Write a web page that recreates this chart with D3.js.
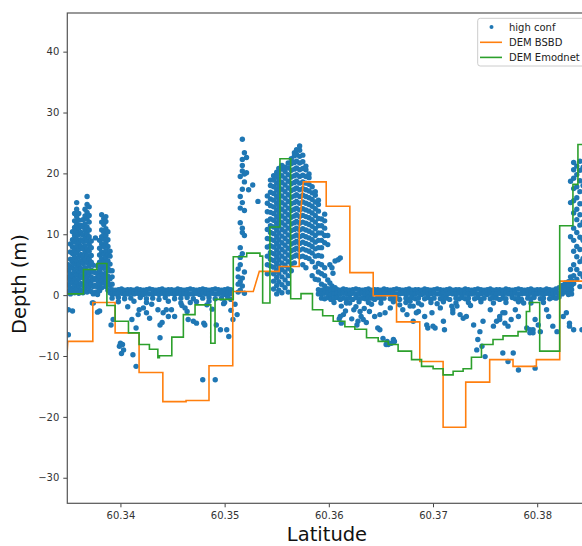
<!DOCTYPE html>
<html><head><meta charset="utf-8">
<script src="https://cdn.jsdelivr.net/npm/d3@7"></script>
<style>body{margin:0;background:#fff}svg{display:block}</style>
</head><body>
<svg id="c" width="582" height="546"></svg>
<script>
// ---------- data ----------
const xTicks = [60.34, 60.35, 60.36, 60.37, 60.38];
const yTicks = [-30, -20, -10, 0, 10, 20, 30, 40];
const seriesNames = ["high conf", "DEM BSBD", "DEM Emodnet"];
const xLabel = "Latitude";
const yLabel = "Depth (m)";

// DEM BSBD (orange) vertices
const bsbdLat = [60.3348,60.33495,60.33735,60.33735,60.33949,60.33949,60.34179,60.34179,60.34407,60.34407,60.34630,60.34630,60.34850,60.34850,60.35078,60.35078,60.35275,60.35333,60.35524,60.35524,60.35716,60.35716,60.35755,60.35975,60.35975,60.36202,60.36202,60.36426,60.36426,60.36650,60.36650,60.36873,60.36873,60.37097,60.37097,60.37314,60.37314,60.37544,60.37544,60.37768,60.37768,60.37992,60.37992,60.38216,60.38216,60.3860];
const bsbdDepth = [-11.8,-7.6,-7.6,-1.2,-1.2,-6.2,-6.2,-12.7,-12.7,-17.5,-17.5,-17.3,-17.3,-11.6,-11.6,0.6,0.6,3.9,3.9,4.7,4.7,10.8,18.6,18.6,14.6,14.6,3.7,3.7,-0.1,-0.1,-4.4,-4.4,-10.9,-10.9,-21.7,-21.7,-14.3,-14.3,-10.6,-10.6,-11.7,-11.7,-10.6,-10.6,2.3,2.3];

// DEM Emodnet (green) steps
const emodLat = [60.3348,60.33645,60.33774,60.33870,60.33949,60.34077,60.34179,60.34278,60.34359,60.34374,60.34493,60.34604,60.34716,60.34867,60.34908,60.35083,60.35212,60.35339,60.35365,60.35435,60.35531,60.35634,60.35733,60.35843,60.35941,60.36042,60.36154,60.36250,60.36362,60.36474,60.36570,60.36665,60.36794,60.36890,60.37001,60.37097,60.37193,60.37289,60.37369,60.37465,60.37576,60.37672,60.37816,60.37896,60.37928,60.38024,60.38216,60.38343,60.38391,60.3860];
const emodDepth = [0.2,4.2,5.2,-1.7,-4.3,-6.2,-8.1,-8.9,-10.3,-9.95,-6.9,-3.2,-1.6,-7.9,-0.7,6.3,6.9,6.4,-1.3,11.2,22.4,-0.6,0.25,-2.4,-3.4,-4.3,-5.2,-5.6,-7.0,-7.6,-8.1,-9.2,-10.6,-11.7,-12.1,-13.1,-12.5,-12.1,-10.2,-8.1,-7.3,-6.7,-6.0,-2.7,-1.2,-9.2,11.4,18.2,24.75,24.75];

// high conf photons: [lat, [depths...]]
const confLeftPeaks = [
[60.3350,[0.6,1.7,2.9,4.1,5.0,-2.4,-6.5]],
[60.3352,[0.2,1.2,2.4,3.5,4.7,5.9,7.1,8.4]],
[60.3354,[0.9,2.0,3.1,4.4,5.5,6.8,7.9,9.1,10.4,-2.6]],
[60.3356,[0.4,1.5,2.6,3.8,5.1,6.2,7.4,8.7,9.8,11.1,12.2,13.4]],
[60.3358,[1.0,2.1,3.3,4.5,5.6,6.9,8.0,9.2,10.5,11.6,12.9,14.1,15.2]],
[60.3360,[0.3,1.5,2.7,3.9,5.0,6.3,7.5,8.6,9.9,11.0,12.3,13.4]],
[60.3362,[0.8,1.9,3.2,4.4,5.6,6.7,8.0,9.1,10.3,11.5]],
[60.3364,[0.4,1.6,2.8,3.9,5.2,6.3,7.6,8.8,9.9,11.2,12.4]],
[60.3366,[1.0,2.2,3.4,4.5,5.8,7.0,8.1,9.4,10.6,11.7,13.0,14.1]],
[60.3368,[0.5,1.7,2.9,4.0,5.3,6.5,7.6,8.9,10.1,11.2,12.5,13.6,14.9,16.2]],
[60.3370,[1.2,2.3,3.6,4.8,5.9,7.2,8.3,9.6,10.7,12.0,13.1,14.5]],
[60.3372,[0.6,1.8,3.0,4.1,5.4,6.5,7.8,8.9]],
[60.3374,[0.2,1.4,2.5,3.8,4.9,-1.3]],
[60.3376,[0.5,1.6,2.8,3.7,9.4]],
[60.3378,[0.1,1.3,2.4,3.5,4.8,-2.8]],
[60.3380,[0.7,1.8,3.0,4.1,5.4,6.6,7.7,9.0,-2.6]],
[60.3382,[1.2,2.4,3.5,4.8,6.0,7.1,8.4,9.6,10.7,12.0,13.2]],
[60.3384,[2.0,3.1,4.4,5.6,6.7,8.0,9.2,10.3,11.6,12.6]],
[60.3386,[1.4,2.6,3.7,5.0,6.2,7.3,8.6,9.8,10.9,12.1,12.9]],
[60.3388,[0.8,2.0,3.1,4.4,5.6,6.7,8.0,9.1,10.4]],
[60.3390,[0.4,1.6,2.7,4.0,5.1,6.4,7.2]],
[60.3392,[1.8,3.0,4.0]]
];
const confLeftBand = [
[60.3392,[0.9,0.2,-0.5]],[60.3395,[0.8,0.2]],[60.3398,[0.9,0.3,-0.4,-1.1]],[60.3401,[1.0,0.3]],[60.3404,[0.8,0.1,-0.6]],[60.3407,[0.9,0.2]],[60.3410,[0.9,0.3,-0.5]],[60.3413,[0.8,0.2,-1.0]],[60.3416,[1.0,0.3]],[60.3419,[0.9,0.2,-0.4]],[60.3422,[0.8,0.1]],[60.3425,[0.9,0.3,-0.6,-1.2]],[60.3428,[1.0,0.2]],[60.3431,[0.9,0.2,-0.5]],[60.3434,[0.8,0.3]],[60.3437,[0.9,0.1,-0.7]],[60.3440,[1.0,0.3]],[60.3443,[0.8,0.2,-0.4]],[60.3446,[0.9,0.2,-1.0]],[60.3449,[0.9,0.3]],[60.3452,[0.8,0.1,-0.6]],[60.3455,[1.0,0.3]],[60.3458,[0.9,0.2,-0.5,-1.3]],[60.3461,[0.8,0.2]],[60.3464,[0.9,0.3,-0.4]],[60.3467,[1.0,0.2]],[60.3470,[0.9,0.2,-0.6]],[60.3473,[0.8,0.3,-1.1]],[60.3476,[0.9,0.1]],[60.3479,[1.0,0.3,-0.5]],[60.3482,[0.9,0.2]],[60.3485,[0.8,0.2,-0.4,-1.0]],[60.3488,[0.9,0.3]],[60.3491,[1.0,0.2,-0.6]],[60.3494,[0.9,0.2]],[60.3497,[0.8,0.3,-0.5]],[60.3500,[0.9,0.1,-1.2]],[60.3503,[1.0,0.3,-0.4]],[60.3506,[0.9,0.2,-0.7]]
];
const confLeftBelow = [[60.3373,-1.3],[60.3393,-4.0],[60.3391,-4.9],[60.3400,-7.9],[60.3399,-8.4],[60.3403,-9.0],[60.3401,-9.6],[60.3402,-8.1],[60.3411,-4.0],[60.3412,-9.8],[60.3415,-5.4],[60.3415,-11.7],[60.3417,-3.2],[60.3418,-2.4],[60.3422,-2.1],[60.3425,-2.9],[60.3428,-3.8],[60.3436,-2.4],[60.3438,-7.0],[60.3438,-4.9],[60.3441,-2.9],[60.3440,-4.5],[60.3444,-2.4],[60.3446,-3.5],[60.3452,-3.5],[60.3449,-2.4],[60.3462,-2.1],[60.3464,-2.7],[60.3465,-4.0],[60.3470,-4.3],[60.3473,-4.6],[60.3480,-4.6],[60.3481,-4.9],[60.3479,-13.9],[60.3483,-1.6],[60.3491,-13.9],[60.3492,-4.9],[60.3496,-5.7],[60.3502,-5.7],[60.3504,-6.8],[60.3506,-2.5],[60.3508,-4.0],[60.3510,-1.5],[60.3512,-3.2],[60.3459,-1.7],[60.3467,-1.2],[60.3430,-1.5],[60.3407,-1.9],[60.3488,-2.3],[60.3499,-1.4]];
const confSpike = [
[60.3513,[0.5,1.8,3.0,4.3]],
[60.3515,[0.8,2.2,5.0,6.2,7.8,11.9,14.3,16.2,19.5]],
[60.3517,[1.5,2.8,6.8,10.3,11.0,15.2,17.4,20.4,21.3,22.3,25.6]],
[60.3519,[0.3,3.8,9.8,13.9,18.6,19.9,23.4]],
[60.3521,[20.1,22.6]],
[60.3523,[17.3]],
[60.3527,[18.1]],
[60.3532,[15.4]]
];
const confCentral = [
[60.3541,[3.5,5.0,6.4,7.9,9.3,10.8,12.2,13.7,15.1,16.3]],
[60.3544,[4.8,5.9,7.0,8.1,9.2,10.3,11.4,12.5,13.6,14.7,15.8,16.9,18.0,18.9]],
[60.3547,[1.0,2.3,3.5,4.6,5.7,6.8,7.9,9.0,10.1,11.2,12.3,13.4,14.5,15.6,16.7,17.8,18.9,19.6]],
[60.3550,[0.2,1.6,2.9,4.1,5.2,6.3,7.4,8.5,9.6,10.7,11.8,12.9,14.0,15.1,16.2,17.3,18.4,19.5,20.2]],
[60.3552,[0.8,2.2,3.6,4.7,5.8,6.9,8.0,9.1,10.2,11.3,12.4,13.5,14.6,15.7,16.8,17.9,19.0,20.1,20.8]],
[60.3555,[0.4,1.7,3.0,4.2,5.3,6.4,7.5,8.6,9.7,10.8,11.9,13.0,14.1,15.2,16.3,17.4,18.5,19.6,20.7,21.3]],
[60.3558,[1.2,2.5,3.8,4.9,6.0,7.1,8.2,9.3,10.4,11.5,12.6,13.7,14.8,15.9,17.0,18.1,19.2,20.3,21.0]],
[60.3561,[0.5,1.9,3.2,4.4,5.5,6.6,7.7,8.8,9.9,11.0,12.1,13.2,14.3,15.4,16.5,17.6,18.7,19.8,20.9,21.7]],
[60.3564,[4.0,5.1,6.2,7.3,8.4,9.5,10.6,11.7,12.8,13.9,15.0,16.1,17.2,18.3,19.4,20.5,21.6,22.4]],
[60.3567,[5.3,6.4,7.5,8.6,9.7,10.8,11.9,13.0,14.1,15.2,16.3,17.4,18.5,19.6,20.7,21.8,22.9,23.4]],
[60.3569,[6.6,7.7,8.8,9.9,11.0,12.1,13.2,14.3,15.4,16.5,17.6,18.7,19.8,20.9,22.0,23.1,23.9]],
[60.3572,[6.3,7.4,8.5,9.6,10.7,11.8,12.9,14.0,15.1,16.2,17.3,18.4,19.5,20.6,21.7,22.8,23.8,24.5]],
[60.3575,[5.0,6.4,7.6,8.7,9.8,10.9,12.0,13.1,14.2,15.3,16.4,17.5,18.6,19.7,20.8,21.9,23.0]],
[60.3578,[4.5,6.2,7.4,8.5,9.6,10.7,11.8,12.9,14.0,15.1,16.2,17.3,18.4,19.5,20.6,21.2]],
[60.3581,[6.0,7.2,8.3,9.4,10.5,11.6,12.7,13.8,14.9,16.0,17.1,18.2,19.3,19.9]],
[60.3584,[3.2,5.5,6.9,8.0,9.1,10.2,11.3,12.4,13.5,14.6,15.7,16.8,17.8]],
[60.3587,[2.6,4.6,6.4,7.6,8.7,9.8,10.9,12.0,13.1,14.2,15.3,16.4,17.0]],
[60.3590,[2.5,3.8,5.2,6.5,7.8,9.0,10.2,11.4,12.6,13.8,14.9,15.6]],
[60.3593,[1.8,3.5,5.0,6.4,7.8,9.0,10.2,11.4,12.5]],
[60.3596,[1.5,3.2,4.5,8.6,9.8,11.0,12.2,13.3]],
[60.3599,[1.0,2.5,8.3,9.8]],
[60.3601,[0.5,2.0,5.0]],
[60.3603,[1.5,4.5]],
[60.3604,[3.6]],
[60.3606,[5.6,1.2]],
[60.3609,[5.8,0.8]],
[60.3611,[6.1]]
];
const confRightBand = [
[60.3590,[0.9,0.2]],[60.3593,[0.8,0.2,-0.5]],[60.3596,[0.9,0.3,-0.6]],[60.3599,[1.0,0.3,-0.4]],[60.3602,[0.8,0.1,-0.7]],[60.3605,[0.9,0.2,-0.5,-1.2]],[60.3608,[0.9,0.3,-0.4]],[60.3611,[0.8,0.2,-0.6]],[60.3614,[1.0,0.3,-0.5]],[60.3617,[0.9,0.2,-0.6,-1.3]],[60.3620,[0.8,0.1,-0.5]],[60.3623,[0.9,0.3,-0.7]],[60.3626,[1.0,0.2,-0.4]],[60.3629,[0.9,0.2,-0.6,-1.1]],[60.3632,[0.8,0.3,-0.5]],[60.3635,[0.9,0.1,-0.6]],[60.3638,[1.0,0.3,-0.4,-1.2]],[60.3641,[0.8,0.2,-0.5]],[60.3644,[0.9,0.2,-0.7]],[60.3647,[0.9,0.3,-0.4]],[60.3650,[0.8,0.1,-0.6,-1.3]],[60.3653,[1.0,0.3,-0.5]],[60.3656,[0.9,0.2]],[60.3659,[0.8,0.2,-0.6]],[60.3662,[0.9,0.3,-0.4,-1.1]],[60.3665,[1.0,0.2,-0.5]],[60.3668,[0.9,0.2,-0.7]],[60.3671,[0.8,0.3]],[60.3674,[0.9,0.1,-0.5,-1.2]],[60.3677,[1.0,0.3,-0.6]],[60.3680,[0.8,0.2,-0.4]],[60.3683,[0.9,0.2,-0.6]],[60.3686,[0.9,0.3,-0.5,-1.3]],[60.3689,[0.8,0.1]],[60.3692,[1.0,0.3,-0.6]],[60.3695,[0.9,0.2,-0.4]],[60.3698,[0.8,0.2,-0.7,-1.2]],[60.3701,[0.9,0.3,-0.5]],[60.3704,[1.0,0.2]],[60.3707,[0.9,0.2,-0.6]],[60.3710,[0.8,0.3,-0.4,-1.1]],[60.3713,[0.9,0.1,-0.5]],[60.3716,[1.0,0.3,-0.7]],[60.3719,[0.8,0.2]],[60.3722,[0.9,0.2,-0.5,-1.3]],[60.3725,[0.9,0.3,-0.6]],[60.3728,[0.8,0.1,-0.4]],[60.3731,[1.0,0.3,-0.6]],[60.3734,[0.9,0.2,-0.5,-1.2]],[60.3737,[0.8,0.2]],[60.3740,[0.9,0.3,-0.6]],[60.3743,[1.0,0.2,-0.4]],[60.3746,[0.9,0.2,-0.7,-1.1]],[60.3749,[0.8,0.3,-0.5]],[60.3752,[0.9,0.1]],[60.3755,[1.0,0.3,-0.6]],[60.3758,[0.8,0.2,-0.4,-1.3]],[60.3761,[0.9,0.2,-0.5]],[60.3764,[0.9,0.3,-0.7]],[60.3767,[0.8,0.1,-0.5]],[60.3770,[1.0,0.3,-0.6,-1.2]],[60.3773,[0.9,0.2]],[60.3776,[0.8,0.2,-0.4]],[60.3779,[0.9,0.3,-0.6]],[60.3782,[1.0,0.2,-0.5,-1.1]],[60.3785,[0.9,0.2,-0.7]],[60.3788,[0.8,0.3]],[60.3791,[0.9,0.1,-0.5]],[60.3794,[1.0,0.3,-0.6,-1.3]],[60.3797,[0.8,0.2,-0.4]],[60.3800,[0.9,0.2]],[60.3803,[0.9,0.3,-0.6]],[60.3806,[0.8,0.1,-0.5,-1.2]],[60.3809,[1.0,0.3]],[60.3812,[0.9,0.2,-0.6]],[60.3815,[0.8,0.2,-0.4]],[60.3818,[1.0,0.3,-0.5]],[60.3821,[1.2,0.4,-0.3]],[60.3824,[1.6,0.9,0.2]],[60.3827,[2.0,1.3,0.5]],[60.3830,[2.2,1.5,0.8,0.1]],[60.3833,[2.4,1.6,0.9,0.2]]
];
const confRightBelow = [[60.3611,-0.7],[60.3612,-1.8],[60.3614,-3.2],[60.3610,-3.9],[60.3620,-1.3],[60.3624,-2.4],[60.3630,-2.7],[60.3631,-3.5],[60.3633,-4.0],[60.3628,-4.3],[60.3636,-4.5],[60.3639,-2.7],[60.3644,-3.5],[60.3649,-3.2],[60.3654,-2.9],[60.3659,-2.1],[60.3652,-7.1],[60.3657,-8.1],[60.3662,-7.3],[60.3656,-7.6],[60.3668,-1.6],[60.3671,-2.4],[60.3675,-3.2],[60.3678,-1.8],[60.3681,-4.3],[60.3686,-2.7],[60.3689,-1.6],[60.3692,-3.5],[60.3695,-5.4],[60.3702,-5.4],[60.3699,-2.9],[60.3710,-4.3],[60.3711,-5.7],[60.3707,-2.1],[60.3719,-2.4],[60.3723,-1.8],[60.3726,-3.2],[60.3729,-3.8],[60.3732,-3.5],[60.3739,-4.9],[60.3745,-6.0],[60.3743,-7.3],[60.3748,-4.3],[60.3755,-2.4],[60.3758,-5.1],[60.3761,-4.3],[60.3764,-3.5],[60.3767,-2.9],[60.3769,-4.6],[60.3772,-5.1],[60.3775,-4.0],[60.3779,-2.4],[60.3782,-3.5],[60.3790,-5.4],[60.3793,-6.2],[60.3796,-5.7],[60.3798,-4.0],[60.3801,-4.9],[60.3803,-6.0],[60.3809,-2.4],[60.3811,-3.5],[60.3815,-5.1],[60.3819,-6.0],[60.3825,-3.5],[60.3828,-2.9],[60.3831,-4.6],[60.3835,-5.7],[60.3843,-5.7],[60.3767,-9.5],[60.3772,-10.9],[60.3777,-9.5],[60.3782,-12.3],[60.3798,-12.0],[60.3750,-10.1],[60.3742,-9.0],[60.3747,-8.4],[60.3611,-3.5],[60.3612,-4.6],[60.3647,-5.4],[60.3649,-5.7],[60.3655,-8.1],[60.3660,-7.9],[60.3663,-7.6],[60.3678,-1.0],[60.3681,-1.8],[60.3684,-2.9],[60.3694,-4.9],[60.3700,-5.1],[60.3718,-1.8],[60.3719,-2.9],[60.3764,-4.0],[60.3769,-2.9],[60.3793,-5.7],[60.3796,-6.2],[60.3831,-5.1],[60.3617,-1.2],[60.3641,-1.5],[60.3704,-1.4],[60.3736,-1.7],[60.3787,-1.3],[60.3616,-2.6],[60.3622,-3.9],[60.3626,-1.9],[60.3634,-2.2],[60.3627,-4.9]];
const confRightRise = [
[60.3832,[3.0,4.2,9.6,15.2,18.7]],
[60.3835,[1.9,3.2,5.0,7.2,9.0,11.0,13.5,15.5,17.5,19.2,20.6,21.8]],
[60.3838,[2.6,4.2,6.3,8.0,10.3,12.4,14.1,16.0,17.8,19.8,21.2]],
[60.3841,[1.4,3.5,5.5,7.5,9.5,11.5,13.2,15.0,17.0,18.8,20.5,22.0]],
[60.3844,[3.0,6.0,9.0,12.0,15.0,18.0,21.0]]
];

// ---------- chart ----------
const COL = {conf: "#1f77b4", bsbd: "#ff7f0e", emod: "#2ca02c"};
const svg = d3.select("#c");
svg.append("rect").attr("width", 582).attr("height", 546).attr("fill", "#fff");

const pL = 67.3, pT = 13, pR = 592, pB = 503.3;
const x = d3.scaleLinear().domain([60.3349, 60.38526]).range([pL, pR]);
const y = d3.scaleLinear().domain([-34.2, 46.35]).range([pB, pT]);

svg.append("clipPath").attr("id", "clip").append("rect")
  .attr("x", pL).attr("y", pT).attr("width", pR - pL).attr("height", pB - pT);

const plot = svg.append("g").attr("clip-path", "url(#clip)");

const cols = (arr) => arr.flatMap(([lat, ds]) => ds.map(d => [lat, d]));
const points = [].concat(
  cols(confLeftPeaks), cols(confLeftBand), confLeftBelow, cols(confSpike),
  cols(confCentral), cols(confRightBand), confRightBelow, cols(confRightRise)
);

plot.append("g").selectAll("circle").data(points).join("circle")
  .attr("cx", d => x(d[0])).attr("cy", d => y(d[1])).attr("r", 2.7)
  .attr("fill", COL.conf);

const bsbd = bsbdLat.map((v, i) => [v, bsbdDepth[i]]);
const emod = emodLat.map((v, i) => [v, emodDepth[i]]);

plot.append("path").datum(bsbd)
  .attr("d", d3.line().x(d => x(d[0])).y(d => y(d[1])))
  .attr("fill", "none").attr("stroke", COL.bsbd).attr("stroke-width", 1.6);

plot.append("path").datum(emod)
  .attr("d", d3.line().curve(d3.curveStepAfter).x(d => x(d[0])).y(d => y(d[1])))
  .attr("fill", "none").attr("stroke", COL.emod).attr("stroke-width", 1.6);

// axes
const font = "DejaVu Sans, sans-serif";
const xAxis = svg.append("g").attr("transform", `translate(0,${pB})`)
  .call(d3.axisBottom(x).tickValues(xTicks).tickFormat(d3.format(".2f")).tickSize(4).tickPadding(5));
const yAxis = svg.append("g").attr("transform", `translate(${pL},0)`)
  .call(d3.axisLeft(y).tickValues(yTicks).tickFormat(d3.format("d")).tickSize(4).tickPadding(4));
[xAxis, yAxis].forEach(a => {
  a.select(".domain").remove();
  a.selectAll(".tick line").attr("stroke", "#444").attr("stroke-width", 1);
  a.selectAll(".tick text").attr("fill", "#333").style("font-family", font).style("font-size", "10px");
});

// frame
svg.append("rect").attr("x", pL).attr("y", pT).attr("width", pR - pL).attr("height", pB - pT)
  .attr("fill", "none").attr("stroke", "#555").attr("stroke-width", 1.2);

// axis labels
svg.append("text").attr("x", 327).attr("y", 541).attr("text-anchor", "middle")
  .style("font-family", font).style("font-size", "19.5px").attr("fill", "#111").text(xLabel);
svg.append("text").attr("transform", "translate(26,284) rotate(-90)").attr("text-anchor", "middle")
  .style("font-family", font).style("font-size", "19.5px").attr("fill", "#111").text(yLabel);

// legend
const lg = svg.append("g");
lg.append("rect").attr("x", 477.7).attr("y", 18.3).attr("width", 130).attr("height", 47.7)
  .attr("rx", 2.5).attr("fill", "#fff").attr("fill-opacity", 0.85).attr("stroke", "#ccc").attr("stroke-width", 1);
const rows = [27, 42.3, 57.4];
lg.append("circle").attr("cx", 491.5).attr("cy", rows[0]).attr("r", 2).attr("fill", COL.conf);
lg.append("line").attr("x1", 480).attr("x2", 502).attr("y1", rows[1]).attr("y2", rows[1]).attr("stroke", COL.bsbd).attr("stroke-width", 1.6);
lg.append("line").attr("x1", 480).attr("x2", 502).attr("y1", rows[2]).attr("y2", rows[2]).attr("stroke", COL.emod).attr("stroke-width", 1.6);
lg.selectAll("text.lt").data(seriesNames).join("text").attr("class", "lt")
  .attr("x", 509).attr("y", (d, i) => rows[i]).attr("dy", "0.35em")
  .style("font-family", font).style("font-size", "10px").attr("fill", "#222").text(d => d);
</script>
</body></html>
